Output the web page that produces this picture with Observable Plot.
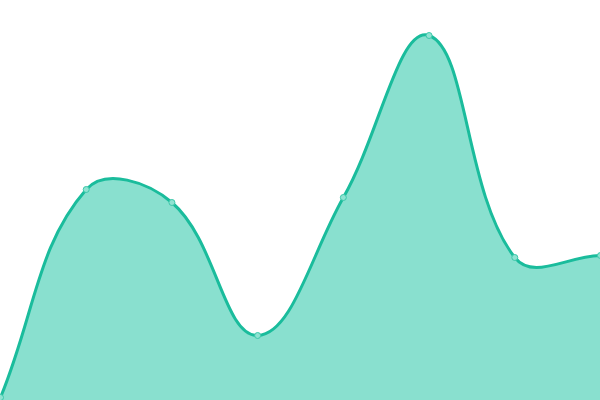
<!DOCTYPE html>
<html>
<head>
<meta charset="utf-8">
<script src="https://cdn.jsdelivr.net/npm/d3@7"></script>
<script src="https://cdn.jsdelivr.net/npm/@observablehq/plot@0.6"></script>
<style>
  html, body { margin: 0; padding: 0; background: #fff; }
  #chart svg { display: block; }
</style>
</head>
<body>
<div id="chart"></div>
<script>
const xs = [0, 1, 2, 3, 4, 5, 6, 7];
const values = [0.75, 52.75, 49.5, 16.25, 50.75, 91.25, 35.75, 36.25];

const data = xs.map((x, i) => ({ x, y: values[i] }));

// Spline with tension (distance-weighted control points), as a d3 curve factory
function tensionSpline(t) {
  return function (context) {
    let pts, line;
    return {
      areaStart() { line = 0; },
      areaEnd() { line = NaN; },
      lineStart() { pts = []; },
      point(x, y) { pts.push([+x, +y]); },
      lineEnd() {
        const n = pts.length;
        if (n) {
          const cps = pts.map((cur, i) => {
            const prev = pts[i - 1] || cur;
            const next = pts[i + 1] || cur;
            const d01 = Math.hypot(cur[0] - prev[0], cur[1] - prev[1]);
            const d12 = Math.hypot(next[0] - cur[0], next[1] - cur[1]);
            let s01 = d01 / (d01 + d12), s12 = d12 / (d01 + d12);
            if (!isFinite(s01)) s01 = 0;
            if (!isFinite(s12)) s12 = 0;
            const fa = t * s01, fb = t * s12;
            return {
              px: cur[0] - fa * (next[0] - prev[0]),
              py: cur[1] - fa * (next[1] - prev[1]),
              nx: cur[0] + fb * (next[0] - prev[0]),
              ny: cur[1] + fb * (next[1] - prev[1])
            };
          });
          if (line) context.lineTo(pts[0][0], pts[0][1]);
          else context.moveTo(pts[0][0], pts[0][1]);
          for (let i = 1; i < n; i++) {
            context.bezierCurveTo(cps[i - 1].nx, cps[i - 1].ny, cps[i].px, cps[i].py, pts[i][0], pts[i][1]);
          }
        }
        if (line || (line !== 0 && n === 1)) context.closePath();
        line = 1 - line;
      }
    };
  };
}
const curve = tensionSpline(0.4);

const chart = Plot.plot({
  width: 600,
  height: 400,
  margin: 0,
  x: { domain: [0, 7], axis: null },
  y: { domain: [0, 100], axis: null },
  marks: [
    Plot.areaY(data, { x: "x", y: "y", curve, fill: "#89e0cf" }),
    Plot.lineY(data, { x: "x", y: "y", curve, stroke: "#1abc9c", strokeWidth: 3 }),
    Plot.dot(data, { x: "x", y: "y", r: 3, fill: "#8fe3d2", stroke: "#3cc8aa", strokeWidth: 1 })
  ]
});
document.getElementById("chart").appendChild(chart);
</script>
</body>
</html>
